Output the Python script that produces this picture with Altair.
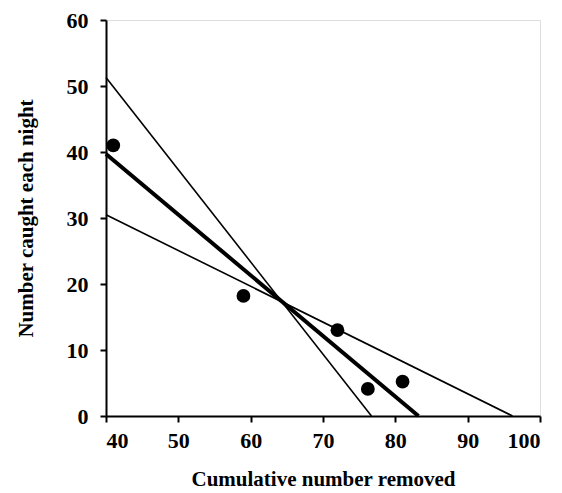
import altair as alt
import pandas as pd

# observed points
removed = [41, 59, 72, 76.2, 81]
caught = [41, 18.2, 13, 4.1, 5.2]

# fitted lines: (x at left edge, y at left edge) -> (x-intercept, 0)
line_names = ["upper", "fit", "lower"]
line_x0 = [40, 40, 40]
line_y0 = [51.3, 39.7, 30.5]
line_x1 = [76.7, 83.2, 96.2]
line_y1 = [0, 0, 0]
line_widths = [1.6, 4, 1.6]

pts = pd.DataFrame({"x": removed, "y": caught})
lines = pd.DataFrame({
    "name": line_names, "x": line_x0, "y": line_y0,
    "x2": line_x1, "y2": line_y1, "w": line_widths,
})

FONT = "Liberation Serif"
xs = alt.Scale(domain=[40, 100], nice=False, zero=False)
ys = alt.Scale(domain=[0, 60], nice=False, zero=False)

xaxis = alt.Axis(values=[40, 50, 60, 70, 80, 90, 100], grid=False,
                 title="Cumulative number removed", titleFont=FONT, titleFontSize=21,
                 titleFontWeight="bold", titleColor="black", titlePadding=17,
                 labelFont=FONT, labelFontSize=22, labelFontWeight="bold", labelColor="black",
                 labelPadding=8, tickSize=6, tickColor="black", domainColor="black",
                 domainWidth=2, tickWidth=2)
yaxis = alt.Axis(values=[0, 10, 20, 30, 40, 50, 60], grid=False,
                 title="Number caught each night", titleFont=FONT, titleFontSize=21,
                 titleFontWeight="bold", titleColor="black", titlePadding=30,
                 labelFont=FONT, labelFontSize=22, labelFontWeight="bold", labelColor="black",
                 labelPadding=12, tickSize=6, tickColor="black", domainColor="black",
                 domainWidth=2, tickWidth=2)

rules = alt.Chart(lines).mark_rule(color="black").encode(
    x=alt.X("x:Q", scale=xs, axis=xaxis),
    y=alt.Y("y:Q", scale=ys, axis=yaxis),
    x2="x2:Q", y2="y2:Q",
    strokeWidth=alt.StrokeWidth("w:Q", scale=None, legend=None),
)

points = alt.Chart(pts).mark_circle(color="black", opacity=1, size=190).encode(
    x=alt.X("x:Q", scale=xs),
    y=alt.Y("y:Q", scale=ys),
)

chart = alt.layer(rules, points).properties(
    width=434, height=396,
    autosize=alt.AutoSizeParams(type="none"),
    padding={"left": 106, "top": 20, "right": 22, "bottom": 77},
).configure_view(stroke=None).configure(background="white")

chart.save("out.html", embed_options={"renderer": "svg", "actions": False})
